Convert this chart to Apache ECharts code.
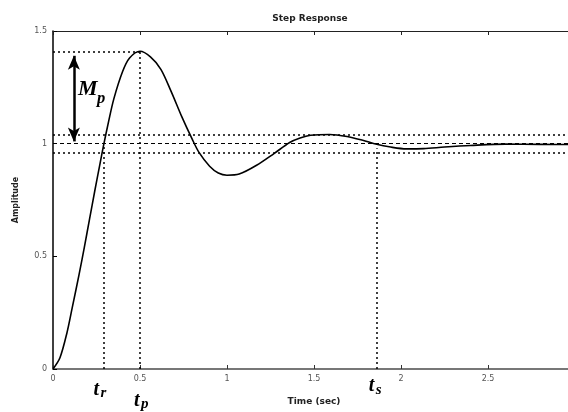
<!DOCTYPE html>
<html>
<head>
<meta charset="utf-8">
<script src="https://cdn.jsdelivr.net/npm/echarts@6/dist/echarts.min.js"></script>
<style>
  html, body { margin: 0; padding: 0; background: #fff; }
  #chart { width: 568px; height: 412px; }
</style>
</head>
<body>
<div id="chart"></div>
<script>
// step response
const time = [0, 0.04, 0.08, 0.11, 0.15, 0.18, 0.21, 0.24, 0.27, 0.29, 0.32, 0.35, 0.4, 0.44, 0.5,
  0.56, 0.62, 0.68, 0.74, 0.8, 0.84, 0.9, 0.95, 1.0, 1.07, 1.17, 1.27, 1.36, 1.42, 1.48,
  1.59, 1.69, 1.78, 1.86, 1.94, 2.03, 2.13, 2.25, 2.4, 2.6, 2.8, 3.0];
const amplitude = [0, 0.05, 0.16, 0.27, 0.42, 0.54, 0.665, 0.79, 0.91, 0.99, 1.1, 1.2, 1.32, 1.38, 1.41,
  1.385, 1.33, 1.23, 1.12, 1.02, 0.96, 0.9, 0.87, 0.86, 0.865, 0.904, 0.956, 1.005, 1.025, 1.037,
  1.041, 1.032, 1.015, 0.997, 0.985, 0.977, 0.978, 0.985, 0.992, 0.998, 0.997, 0.996];

const xTicks = [0, 0.5, 1, 1.5, 2, 2.5];
const yTicks = [0, 0.5, 1, 1.5];

// annotation values
const riseTime = 0.29;
const peakTime = 0.5;
const peakValue = 1.41;
const settleTime = 1.86;
const finalValue = 1;
const bandUpper = 1.04;
const bandLower = 0.96;
const arrowTime = 0.12;
const arrowTop = 1.39;
const arrowBottom = 1.01;

const xMax = 3;

const chart = echarts.init(document.getElementById('chart'));

const dotted = { color: '#000', width: 1.5, type: [2, 3] };
const dashed = { color: '#000', width: 1.2, type: [4, 3] };

const tickLabel = { fontSize: 8, color: '#555', fontFamily: 'DejaVu Sans' };

const option = {
  animation: false,
  backgroundColor: '#fff',
  title: {
    text: 'Step Response',
    left: 305, top: 9, textAlign: 'center',
    textStyle: { fontSize: 9, fontWeight: 'bold', color: '#222', fontFamily: 'DejaVu Sans' }
  },
  grid: { left: 53, right: -7, top: 31, bottom: 43, containLabel: false, outerBoundsMode: 'none' },
  xAxis: [{
    type: 'value', min: 0, max: xMax, interval: 0.5,
    name: 'Time (sec)', nameLocation: 'middle', nameGap: 28,
    nameTextStyle: { fontSize: 9, fontWeight: 'bold', color: '#222', fontFamily: 'DejaVu Sans' },
    axisLine: { lineStyle: { color: '#777', width: 2 } },
    axisTick: { inside: true, length: 4, lineStyle: { color: '#333' } },
    axisLabel: Object.assign({}, tickLabel, {
      margin: 6,
      formatter: v => (xTicks.includes(v) ? String(v) : '')
    }),
    splitLine: { show: false }
  }, {
    type: 'value', min: 0, max: xMax, interval: 0.5, position: 'top',
    axisLine: { lineStyle: { color: '#222', width: 1 } },
    axisTick: { inside: true, length: 4, lineStyle: { color: '#222' } },
    axisLabel: { show: false },
    splitLine: { show: false }
  }],
  yAxis: {
    type: 'value', min: 0, max: 1.5, interval: 0.5,
    name: 'Amplitude', nameLocation: 'middle', nameGap: 33,
    nameTextStyle: { fontSize: 8, fontWeight: 'bold', color: '#222', fontFamily: 'DejaVu Sans' },
    axisLine: { show: true, lineStyle: { color: '#000', width: 1.5 } },
    axisTick: { show: true, inside: true, length: 4, lineStyle: { color: '#000' } },
    axisLabel: Object.assign({}, tickLabel, {
      margin: 6,
      formatter: v => (yTicks.includes(v) ? String(v) : '')
    }),
    splitLine: { show: false }
  },
  series: [{
    type: 'line',
    data: time.map((t, i) => [t, amplitude[i]]),
    showSymbol: false,
    smooth: 0.3,
    lineStyle: { color: '#000', width: 1.6 },
    z: 5
  }, {
    type: 'line',
    data: [],
    markLine: {
      silent: true,
      symbol: 'none',
      label: { show: false },
      data: [
        [{ coord: [0, peakValue], lineStyle: dotted }, { coord: [peakTime, peakValue] }],
        [{ coord: [peakTime, 0], lineStyle: dotted }, { coord: [peakTime, peakValue] }],
        [{ coord: [riseTime, 0], lineStyle: dotted }, { coord: [riseTime, finalValue] }],
        [{ coord: [settleTime, 0], lineStyle: dotted }, { coord: [settleTime, 0.98] }],
        [{ coord: [0, bandUpper], lineStyle: dotted }, { coord: [xMax, bandUpper] }],
        [{ coord: [0, bandLower], lineStyle: dotted }, { coord: [xMax, bandLower] }],
        [{ coord: [0, finalValue], lineStyle: dashed }, { coord: [xMax, finalValue] }]
      ]
    }
  }, {
    type: 'line',
    data: [],
    markLine: {
      silent: true,
      symbol: ['arrow', 'arrow'],
      symbolSize: [9, 14],
      label: { show: false },
      lineStyle: { color: '#000', width: 2.5, type: 'solid' },
      data: [[{ coord: [arrowTime, arrowBottom] }, { coord: [arrowTime, arrowTop] }]]
    }
  }]
};

chart.setOption(option);

// italic symbol labels anchored to the data positions
const serif = 'Liberation Serif';
const glyph = (text, x, y, size) => ({
  type: 'text', x: x, y: y,
  style: {
    text: text, fill: '#000', fontFamily: serif, fontStyle: 'italic',
    fontWeight: 'bold', fontSize: size, verticalAlign: 'top'
  }
});
const sym = (name, sub, t, v, dx, dy, subDx, subDy, size) => {
  const p = chart.convertToPixel({ gridIndex: 0 }, [t, v]);
  const x = p[0] + dx, y = p[1] + dy;
  return [glyph(name, x, y, size), glyph(sub, x + subDx, y + subDy, size * 0.75)];
};

chart.setOption({
  graphic: [].concat(
    sym('t', 'r', riseTime, 0, -10, 11, 7, 6, 20),
    sym('t', 'p', peakTime, 0, -6, 22, 7, 6, 20),
    sym('t', 's', settleTime, 0, -8, 7, 7, 7, 20),
    sym('M', 'p', arrowTime, 1.24, 4, -11, 19, 12, 22)
  )
});
</script>
</body>
</html>
